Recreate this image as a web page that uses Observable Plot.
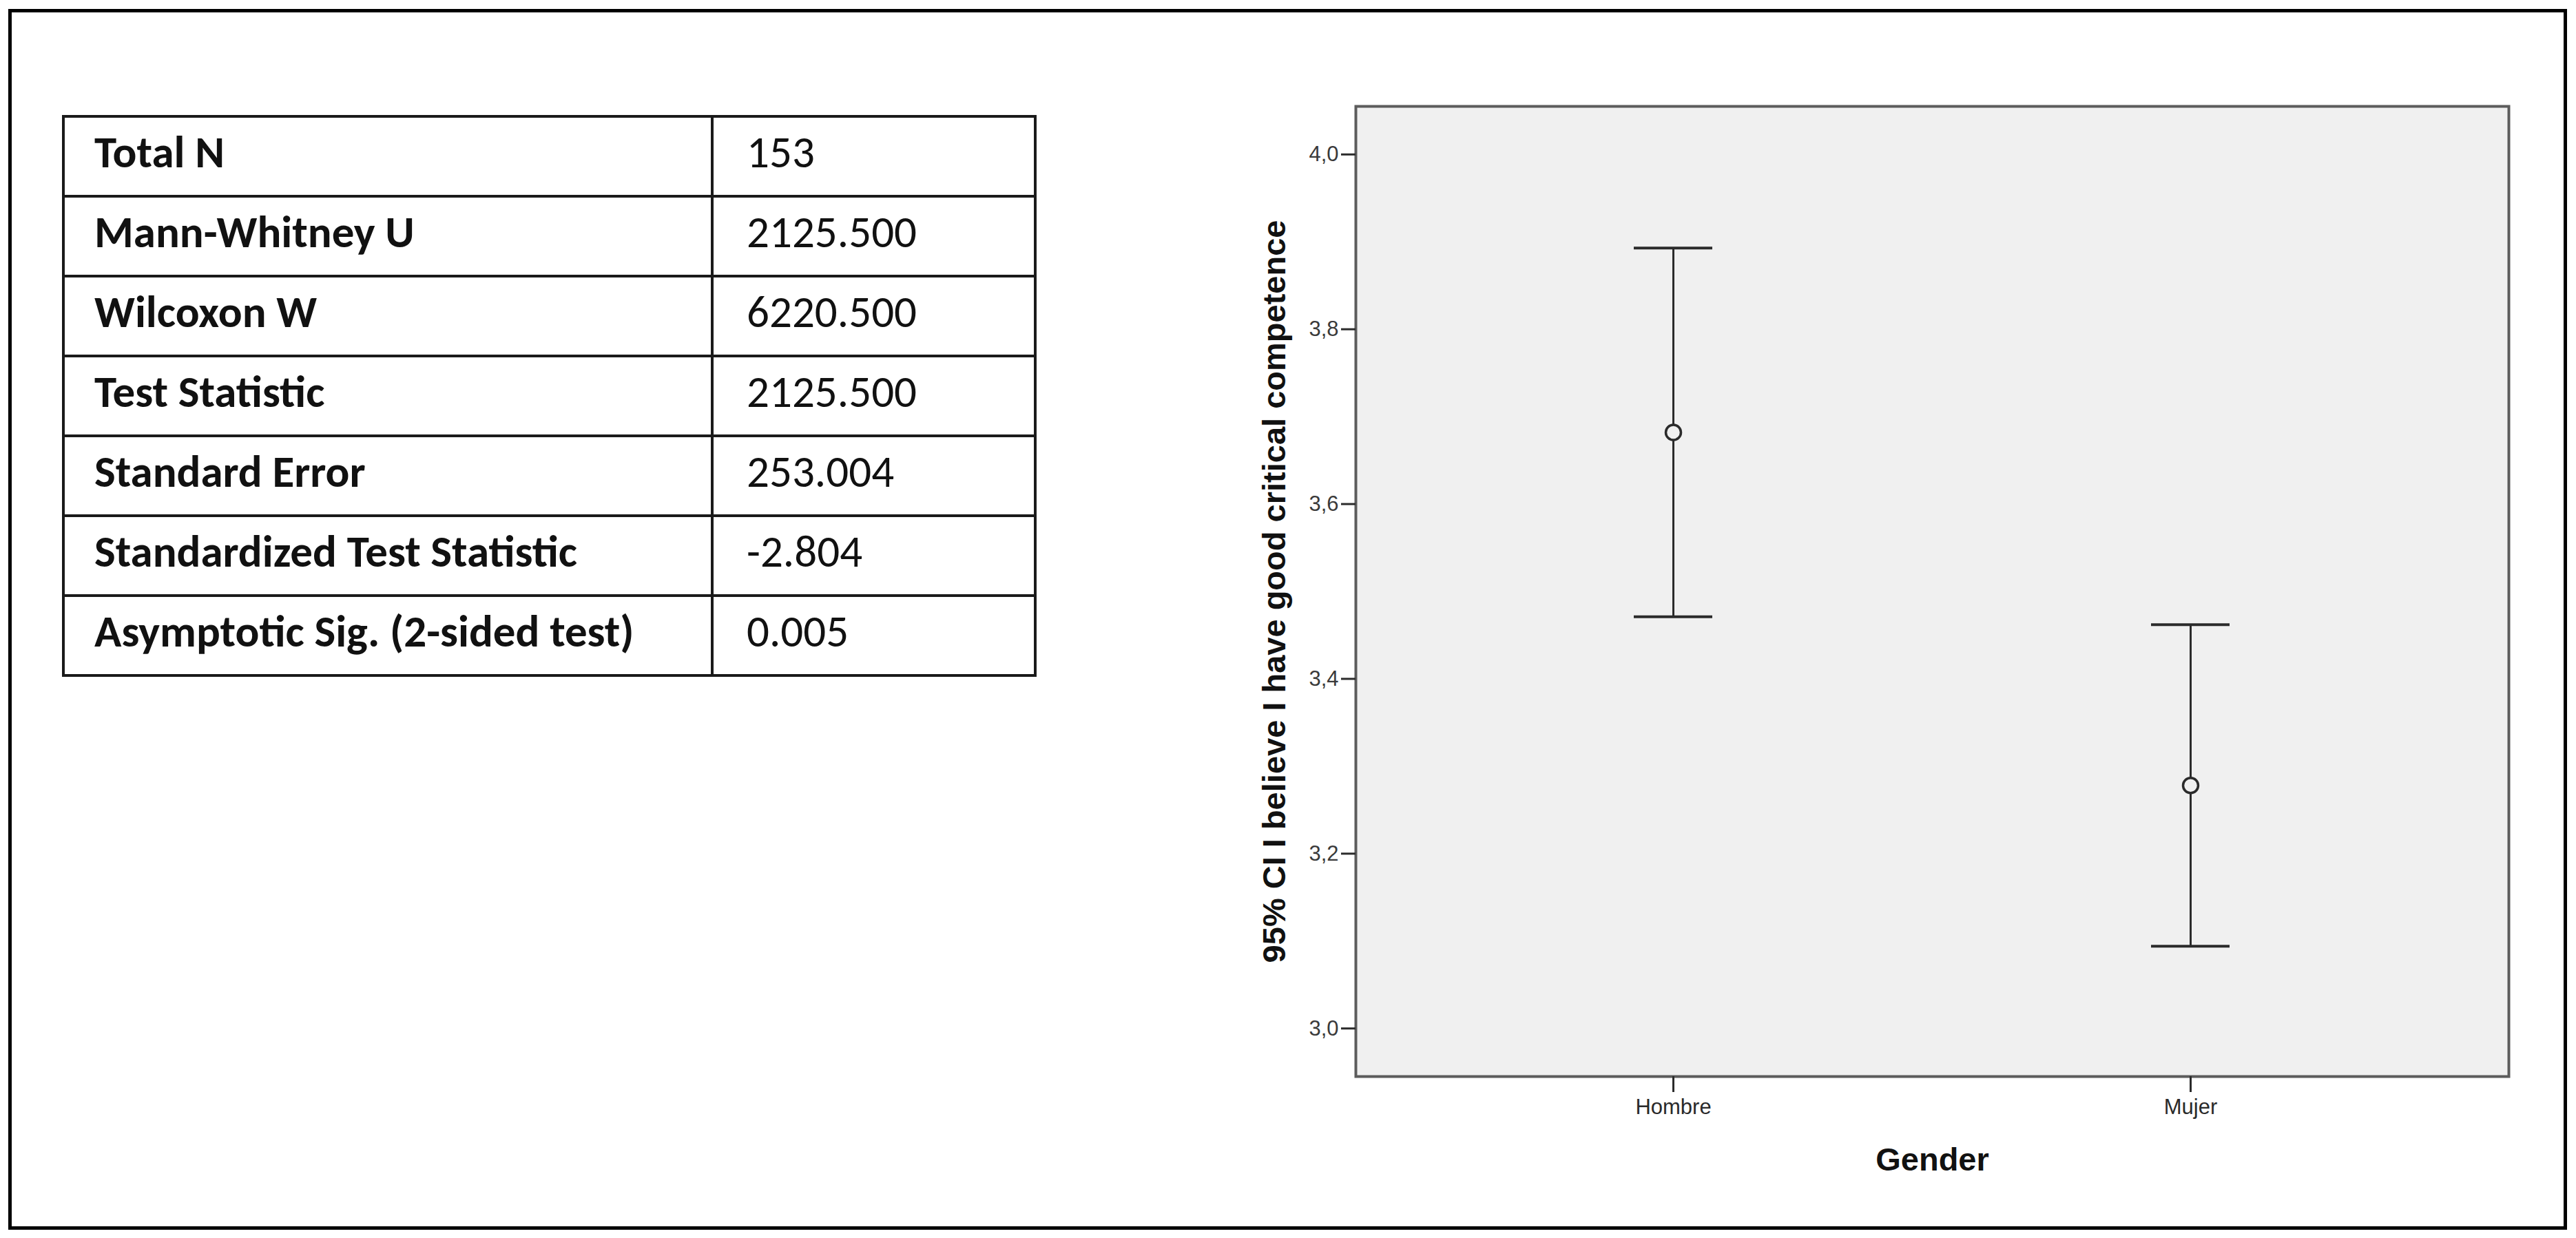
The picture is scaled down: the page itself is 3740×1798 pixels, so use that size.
<!DOCTYPE html>
<html>
<head>
<meta charset="utf-8">
<script src="https://cdn.jsdelivr.net/npm/d3@7"></script>
<script src="https://cdn.jsdelivr.net/npm/@observablehq/plot@0.6"></script>
<style>
  html, body { margin: 0; padding: 0; background: #fff; }
  #page { position: relative; width: 3740px; height: 1798px; background: #fff; overflow: hidden; }
  #outer { position: absolute; left: 12px; top: 13px; width: 3715px; height: 1773px; border: 5px solid #000; box-sizing: border-box; }
  #stats { position: absolute; left: 90px; top: 167px; border-collapse: collapse; font-family: Carlito, Lato, "Open Sans", sans-serif; color: #111; }
  #stats td { border: 4px solid #1a1a1a; height: 99px; padding: 0 0 13px 0; vertical-align: middle; font-size: 65px; line-height: 1; white-space: nowrap; }
  #stats td.lab { width: 895px; padding-left: 43px; font-weight: 700; }
  #stats td.val { width: 417px; padding-left: 48px; font-weight: 400; }
  #chart { position: absolute; left: 1780px; top: 100px; }
</style>
</head>
<body>
<div id="page">
  <div id="outer"></div>
  <table id="stats"></table>
  <div id="chart"></div>
</div>
<script>
// ---- Data ----
const statLabels = ["Total N", "Mann-Whitney U", "Wilcoxon W", "Test Statistic", "Standard Error", "Standardized Test Statistic", "Asymptotic Sig. (2-sided test)"];
const statValues = ["153", "2125.500", "6220.500", "2125.500", "253.004", "-2.804", "0.005"];

const genders = ["Hombre", "Mujer"];
const means = [3.682, 3.278];
const lower = [3.471, 3.094];
const upper = [3.893, 3.462];

const yTicks = [3.0, 3.2, 3.4, 3.6, 3.8, 4.0];
const yTickLabels = ["3,0", "3,2", "3,4", "3,6", "3,8", "4,0"];
const yTitle = "95% CI I believe I have good critical competence";
const xTitle = "Gender";

// ---- Table ----
const table = d3.select("#stats");
statLabels.forEach((lab, i) => {
  const tr = table.append("tr");
  tr.append("td").attr("class", "lab").text(lab);
  tr.append("td").attr("class", "val").text(statValues[i]);
});

// ---- Chart ----
const rows = genders.map((g, i) => ({gender: g, mean: means[i], lo: lower[i], hi: upper[i]}));
const bg = "#f0f0f0";
const ink = "#2b2b2b";
const sans = "'Liberation Sans', Arial, sans-serif";

const chart = Plot.plot({
  width: 1920,
  height: 1660,
  marginLeft: 188,
  marginRight: 58,
  marginTop: 54,
  marginBottom: 197,
  style: {fontFamily: sans, fontSize: "31px", color: "#333", background: "transparent", overflow: "visible"},
  x: {type: "band", domain: genders, paddingInner: 0.848, paddingOuter: 0.538, label: null},
  y: {domain: [2.945, 4.055], label: null},
  marks: [
    Plot.frame({fill: bg, stroke: "#5c5c5c", strokeWidth: 4}),
    Plot.axisY({ticks: yTicks, tickFormat: (d) => yTickLabels[yTicks.indexOf(d)], tickSize: 21, tickPadding: 4, strokeWidth: 3, stroke: ink, fill: "#3a3a3a", fontSize: 31, label: null}),
    Plot.axisX({tickSize: 23, tickPadding: 9, strokeWidth: 3, stroke: ink, fill: "#2a2a2a", fontSize: 31, label: null}),
    Plot.ruleX(rows, {x: "gender", y1: "lo", y2: "hi", stroke: ink, strokeWidth: 3}),
    Plot.tickY(rows, {x: "gender", y: "lo", stroke: ink, strokeWidth: 4}),
    Plot.tickY(rows, {x: "gender", y: "hi", stroke: ink, strokeWidth: 4}),
    Plot.dot(rows, {x: "gender", y: "mean", r: 11, fill: bg, stroke: ink, strokeWidth: 3.5}),
    Plot.text([yTitle], {text: (d) => d, frameAnchor: "left", dx: -118, rotate: -90, textAnchor: "middle", lineAnchor: "middle", fontSize: 47, fontWeight: "bold", fontFamily: sans, fill: "#111"}),
    Plot.text([xTitle], {text: (d) => d, frameAnchor: "bottom", dy: 121, textAnchor: "middle", lineAnchor: "middle", fontSize: 47, fontWeight: "bold", fontFamily: sans, fill: "#111"})
  ]
});
document.getElementById("chart").appendChild(chart);
</script>
</body>
</html>
